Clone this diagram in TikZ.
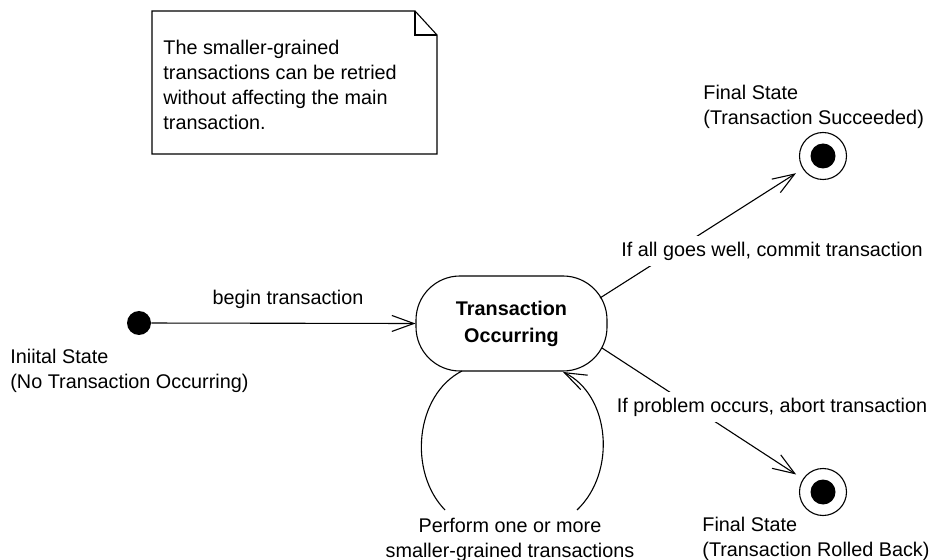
\documentclass[tikz,border=0pt]{standalone}
\usepackage{fontspec}
\setmainfont{Liberation Sans}
\usetikzlibrary{arrows.meta}
\begin{document}
\begin{tikzpicture}[x=0.5pt,y=-0.5pt,
  txt/.style={font=\fontsize{9.9pt}{12.5pt}\selectfont, inner sep=0pt, align=left},
  ctxt/.style={font=\fontsize{9.9pt}{12.5pt}\selectfont, inner sep=0pt, align=center},
  elabel/.style={font=\fontsize{9.9pt}{12.5pt}\selectfont, inner sep=3pt, fill=white},
  ln/.style={line width=0.55pt, draw=black},
  trans/.style={ln, -{Straight Barb[length=11pt,width=8pt,line width=0.55pt]}},
  initdot/.style={circle, fill=black, minimum size=12pt, inner sep=0pt},
  finalring/.style={circle, ln, fill=white, minimum size=23.5pt, inner sep=0pt},
  finaldot/.style={circle, fill=black, minimum size=12.5pt, inner sep=0pt},
  statebox/.style={ln, rounded corners=22pt, minimum width=95.5pt, minimum height=47.5pt,
    inner sep=0pt, align=center, font=\fontsize{9.9pt}{13.5pt}\selectfont\bfseries}
]
\useasboundingbox (0,0) rectangle (929,560);

% note
\draw[ln] (152,11) -- (415,11) -- (437,35) -- (437,154) -- (152,154) -- cycle;
\draw[ln] (415,11) -- (415,35) -- (437,35);
\node[txt, anchor=west] (note) at (163,84.5) {The smaller-grained\\transactions can be retried\\without affecting the main\\transaction.};

% states
\node[initdot] (init) at (139,323) {};
\node[txt, anchor=west] (initlbl) at (10,370.5) {Iniital State\\(No Transaction Occurring)};

\node[statebox] (s) at (511.5,323.5) {Transaction\\Occurring};

\node[finalring] (f1) at (823,156) {};
\node[finaldot] (f1d) at (823,156) {};
\node[txt, anchor=west] (f1lbl) at (703,107) {Final State\\(Transaction Succeeded)};

\node[finalring] (f2) at (823,492) {};
\node[finaldot] (f2d) at (823,492) {};
\node[txt, anchor=west] (f2lbl) at (702,538.5) {Final State\\(Transaction Rolled Back)};

% connector end points on the state border
\coordinate (s1) at (600,298);
\coordinate (s2) at (602,348);
\coordinate (la) at (462,371);
\coordinate (lb) at (445,510);
\coordinate (rb) at (577,510);
\coordinate (ra) at (563,372);

% transitions
\draw[trans] (init) -- (s.west);
\node[ctxt] (lbegin) at (288,299) {begin transaction};

\draw[trans, shorten >=4pt] (s1) -- (f1);
\node[elabel] (lok) at (772,251) {If all goes well, commit transaction};

\draw[trans, shorten >=4pt] (s2) -- (f2);
\node[elabel] (lbad) at (772,407) {If problem occurs, abort transaction};

\draw[ln] (la) .. controls (415,395) and (408,472) .. (lb);
\draw[trans] (rb) .. controls (617,472) and (610,395) .. (ra);
\node[ctxt] (loop) at (510,539.5) {Perform one or more\\smaller-grained transactions};
\end{tikzpicture}
\end{document}
